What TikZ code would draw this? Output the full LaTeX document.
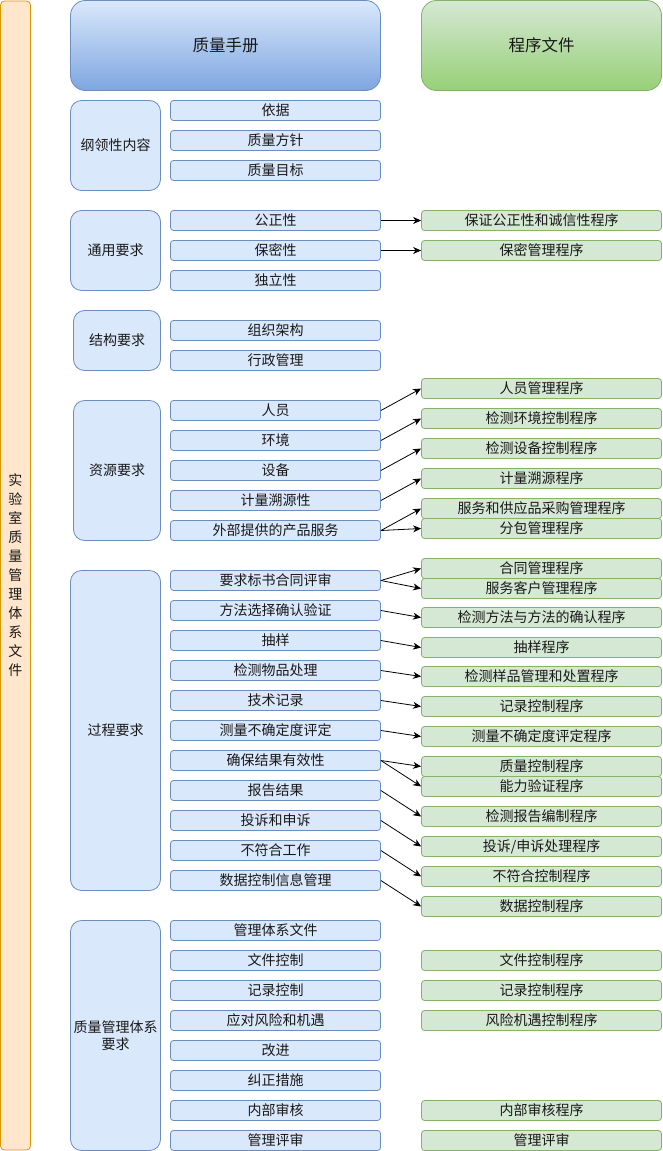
\documentclass[tikz,border=0pt]{standalone}
\usepackage{fontspec}
\setmainfont{Noto Sans CJK SC}
\usetikzlibrary{arrows.meta,positioning}
\definecolor{bluefill}{HTML}{DAE8FC}
\definecolor{blueline}{HTML}{6C8EBF}
\definecolor{bluedeep}{HTML}{7EA6E0}
\definecolor{greenfill}{HTML}{D5E8D4}
\definecolor{greenline}{HTML}{82B366}
\definecolor{greendeep}{HTML}{97D077}
\definecolor{orangefill}{HTML}{FFE6CC}
\definecolor{orangeline}{HTML}{D79B00}
\tikzset{
  base/.style={line width=0.8pt,inner sep=0pt,align=center,font=\fontsize{14}{17}\selectfont,text=black!90},
  sidebar/.style={base,draw=orangeline,fill=orangefill,rounded corners=4pt,minimum width=30pt,minimum height=1149pt,font=\fontsize{14}{19}\selectfont},
  headq/.style={base,draw=blueline,top color=bluefill,bottom color=bluedeep,rounded corners=15pt,minimum width=310pt,minimum height=90pt,font=\fontsize{16.5}{20}\selectfont},
  headp/.style={base,draw=greenline,top color=greenfill,bottom color=greendeep,rounded corners=15pt,minimum width=240pt,minimum height=90pt,font=\fontsize{16.5}{20}\selectfont},
  grp/.style={base,draw=blueline,fill=bluefill,rounded corners=11pt,minimum width=90pt},
  item/.style={base,draw=blueline,fill=bluefill,rounded corners=3pt,minimum width=210pt,minimum height=20pt},
  proc/.style={base,draw=greenline,fill=greenfill,rounded corners=3pt,minimum width=240pt,minimum height=20pt},
  link/.style={-{Stealth[length=8pt,width=7pt,inset=2.5pt]},line width=0.8pt,draw=black}
}
\begin{document}
\begin{tikzpicture}[x=1pt,y=-1pt]
\useasboundingbox (0,0) rectangle (662,1151);
\node[sidebar] (side) at (15.5,575.5) {实\\验\\室\\质\\量\\管\\理\\体\\系\\文\\件};
\node[headq] (hq) at (225.5,45.5) {质量手册};
\node[headp] (hp) at (541.5,45.5) {程序文件};
% left groups
\node[grp,minimum height=90pt] (ga) at (115.5,145.5) {纲领性内容};
\node[grp,minimum height=80pt] (gb) at (115.5,250.5) {通用要求};
\node[grp,minimum width=87pt,minimum height=60pt] (gc) at (117,340.5) {结构要求};
\node[grp,minimum width=87pt,minimum height=140pt] (gd) at (117,470.5) {资源要求};
\node[grp,minimum height=320pt] (ge) at (115.5,730.5) {过程要求};
\node[grp,minimum height=230pt] (gf) at (115.5,1035.5) {质量管理体系\\要求};
% manual items
\foreach \n/\y/\t in {a1/110/依据,a2/140/质量方针,a3/170/质量目标,
  b1/220/公正性,b2/250/保密性,b3/280/独立性,
  c1/330/组织架构,c2/360/行政管理,
  d1/410/人员,d2/440/环境,d3/470/设备,d4/500/计量溯源性,d5/530/外部提供的产品服务,
  e1/580/要求标书合同评审,e2/610/方法选择确认验证,e3/640/抽样,e4/670/检测物品处理,
  e5/700/技术记录,e6/730/测量不确定度评定,e7/760/确保结果有效性,e8/790/报告结果,
  e9/820/投诉和申诉,e10/850/不符合工作,e11/880/数据控制信息管理,
  f1/930/管理体系文件,f2/960/文件控制,f3/990/记录控制,f4/1020/应对风险和机遇,
  f5/1050/改进,f6/1080/纠正措施,f7/1110/内部审核,f8/1140/管理评审}
  \node[item] (\n) at (275.5,\y.5) {\t};
% procedures
\foreach \n/\y/\t in {pb1/220/保证公正性和诚信性程序,pb2/250/保密管理程序,
  pd1/388/人员管理程序,pd2/418/检测环境控制程序,pd3/448/检测设备控制程序,
  pd4/478/计量溯源程序,pd5/508/服务和供应品采购管理程序,pd6/528/分包管理程序,
  pe1/568/合同管理程序,pe2/588/服务客户管理程序,pe3/617/检测方法与方法的确认程序,
  pe4/647/抽样程序,pe5/676/检测样品管理和处置程序,pe6/706/记录控制程序,
  pe7/736/测量不确定度评定程序,pe8/766/质量控制程序,pe9/786/能力验证程序,
  pe10/816/检测报告编制程序,pe11/846/{投诉/申诉处理程序},pe12/876/不符合控制程序,
  pe13/906/数据控制程序,
  pf1/960/文件控制程序,pf2/990/记录控制程序,pf3/1020/风险机遇控制程序,
  pf4/1110/内部审核程序,pf5/1140/管理评审}
  \node[proc] (\n) at (541.5,\y.5) {\t};
% links
\foreach \s/\e in {b1/pb1,b2/pb2,d1/pd1,d2/pd2,d3/pd3,d4/pd4,d5/pd5,d5/pd6,
  e1/pe1,e1/pe2,e2/pe3,e3/pe4,e4/pe5,e5/pe6,e6/pe7,e7/pe8,e7/pe9,
  e8/pe10,e9/pe11,e10/pe12,e11/pe13}
  \draw[link] (\s.east) -- (\e.west);
\end{tikzpicture}
\end{document}
